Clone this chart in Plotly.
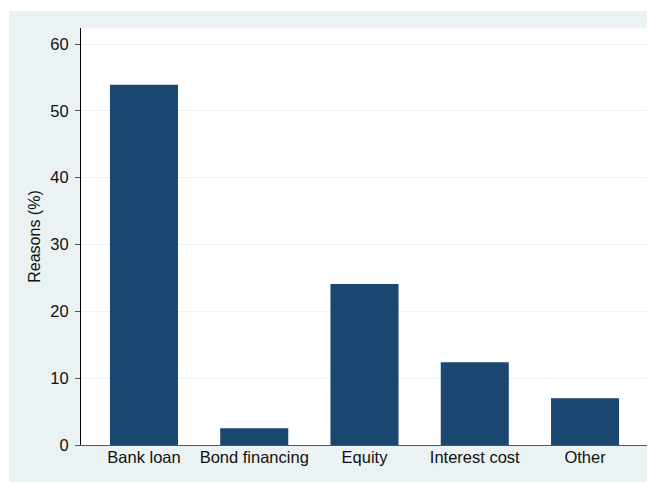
import plotly.graph_objects as go

categories = ["Bank loan", "Bond financing", "Equity", "Interest cost", "Other"]
values = [53.9, 2.5, 24.1, 12.4, 7.0]
y_ticks = [0, 10, 20, 30, 40, 50, 60]

# page body has an 8px margin; figure sits at (8, 8)
OFF = 8
W, H = 655 - OFF, 482 - OFF
ml, mr, mt, mb = 81 - OFF, 7, 28 - OFF, 37
pw, ph = W - ml - mr, H - mt - mb

fig = go.Figure(go.Bar(
    x=list(range(len(categories))), y=values,
    marker=dict(color="#1A476F", line=dict(width=0)),
    width=0.617,
))

def px_x(p):
    return (p - ml) / pw

def px_y(p):
    return 1 + (mt - p) / ph

fig.update_layout(
    width=W, height=H,
    margin=dict(l=ml, r=mr, t=mt, b=mb),
    paper_bgcolor="#EAF2F3", plot_bgcolor="white",
    font=dict(family="Liberation Sans, Arial, sans-serif", size=16, color="#111"),
    showlegend=False,
    shapes=[
        dict(type="rect", xref="paper", yref="paper", x0=px_x(-5), x1=px_x(9 - OFF),
             y0=px_y(-5), y1=px_y(H + 5), fillcolor="white", line=dict(width=0), layer="below"),
        dict(type="rect", xref="paper", yref="paper", x0=px_x(-5), x1=px_x(W + 5),
             y0=px_y(-5), y1=px_y(11 - OFF), fillcolor="white", line=dict(width=0), layer="below"),
    ],
    xaxis=dict(
        range=[-0.571, 4.571], tickmode="array",
        tickvals=list(range(len(categories))), ticktext=categories,
        showgrid=False, showline=True, linecolor="#555", linewidth=1,
        ticks="", zeroline=False, tickfont=dict(size=16.5),
        ticklabelstandoff=-3,
    ),
    yaxis=dict(
        range=[0, 62.4], tickmode="array", tickvals=y_ticks,
        showgrid=True, gridcolor="#EAF2F3", gridwidth=1,
        showline=True, linecolor="black", linewidth=1,
        ticks="outside", ticklen=5, tickcolor="#555", ticklabelstandoff=3,
        zeroline=False, tickfont=dict(size=16.5),
        title=dict(text="Reasons (%)", font=dict(size=16), standoff=5),
    ),
)

fig.write_html("out.html")
